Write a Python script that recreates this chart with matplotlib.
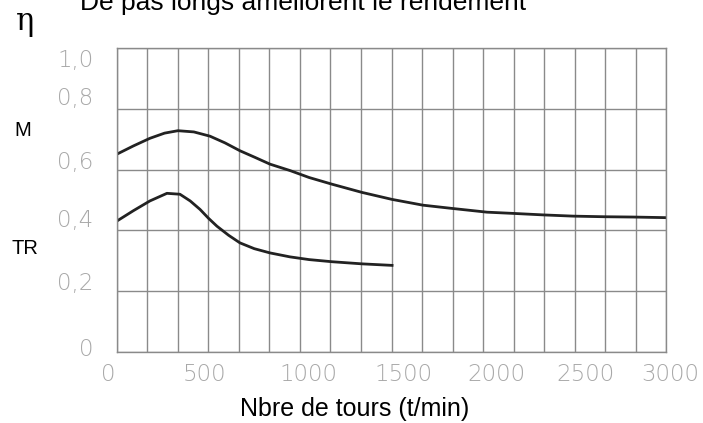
import matplotlib.pyplot as plt
import matplotlib.transforms as mtransforms
import numpy as np

plt.rcParams['font.family'] = ['Liberation Sans', 'DejaVu Sans']

# rendement vs vitesse
rpm_m = [0, 90, 180, 260, 333, 420, 508, 590, 672, 755, 836, 945, 1050, 1175,
         1339, 1503, 1672, 1836, 2022, 2164, 2330, 2492, 2660, 2820, 3000]
eta_m = [0.651, 0.678, 0.703, 0.720, 0.728, 0.724, 0.710, 0.688, 0.662, 0.640,
         0.618, 0.597, 0.574, 0.552, 0.525, 0.502, 0.483, 0.472, 0.460, 0.456,
         0.451, 0.447, 0.445, 0.444, 0.442]

rpm_tr = [0, 90, 180, 273, 344, 400, 454, 500, 546, 610, 672, 750, 836, 945,
          1050, 1175, 1339, 1503]
eta_tr = [0.431, 0.465, 0.497, 0.522, 0.519, 0.497, 0.469, 0.440, 0.414, 0.384,
          0.359, 0.340, 0.326, 0.313, 0.304, 0.297, 0.290, 0.285]

xticks = [0, 500, 1000, 1500, 2000, 2500, 3000]
yticks = [0, 0.2, 0.4, 0.6, 0.8, 1.0]
ylabels = ['0', '0,2', '0,4', '0,6', '0,8', '1,0']

# decalage des etiquettes du scan (pixels)
xlab_shift = [-9, -4, 8, 12, 13, 11, 4]
ylab_shift = [5, 10, 12, 10, 13, -10]

fig = plt.figure(figsize=(7.03, 4.23), dpi=100)
ax = fig.add_axes([0.1664, 0.1678, 0.7810, 0.7187])

ax.plot(rpm_m, eta_m, color='#222222', lw=2)
ax.plot(rpm_tr, eta_tr, color='#222222', lw=2)

ax.set_xlim(0, 3000)
ax.set_ylim(0, 1.0)
ax.set_xticks(xticks)
ax.set_yticks(yticks)
ax.set_yticklabels(ylabels)
ax.set_xticks(np.linspace(0, 3000, 19), minor=True)
ax.grid(True, which='both', axis='x', color='#8a8a8a', lw=1)
ax.grid(True, which='major', axis='y', color='#8a8a8a', lw=1)
ax.tick_params(which='both', length=0)
ax.tick_params(axis='both', labelsize=16.5, labelcolor='#a8a8a8')
ax.tick_params(axis='y', pad=17)
ax.tick_params(axis='x', pad=8)
for lab in ax.get_xticklabels() + ax.get_yticklabels():
    lab.set_family(['DejaVu Sans'])
    lab.set_fontweight('light')
for lab, dx in zip(ax.get_xticklabels(), xlab_shift):
    lab.set_transform(lab.get_transform() +
                      mtransforms.ScaledTranslation(dx / 100, 0, fig.dpi_scale_trans))
for lab, dy in zip(ax.get_yticklabels(), ylab_shift):
    lab.set_transform(lab.get_transform() +
                      mtransforms.ScaledTranslation(0, dy / 100, fig.dpi_scale_trans))
for s in ax.spines.values():
    s.set_color('#8a8a8a')
    s.set_linewidth(1)

fig.text(355 / 703, 1 - 416 / 423, 'Nbre de tours (t/min)', fontsize=18,
         ha='center', va='baseline')

fig.text(80 / 703, 1 - 10 / 423, 'De pas longs améliorent le rendement',
         fontsize=19, va='baseline', ha='left')
fig.text(16 / 703, 1 - 30 / 423, 'η', fontsize=22, va='baseline',
         family=['DejaVu Serif'])
fig.text(23 / 703, 1 - 130 / 423, 'M', fontsize=14.5, va='center', ha='center')
fig.text(25 / 703, 1 - 248 / 423, 'TR', fontsize=14.5, va='center', ha='center')

fig.savefig('out.png', dpi=100)
